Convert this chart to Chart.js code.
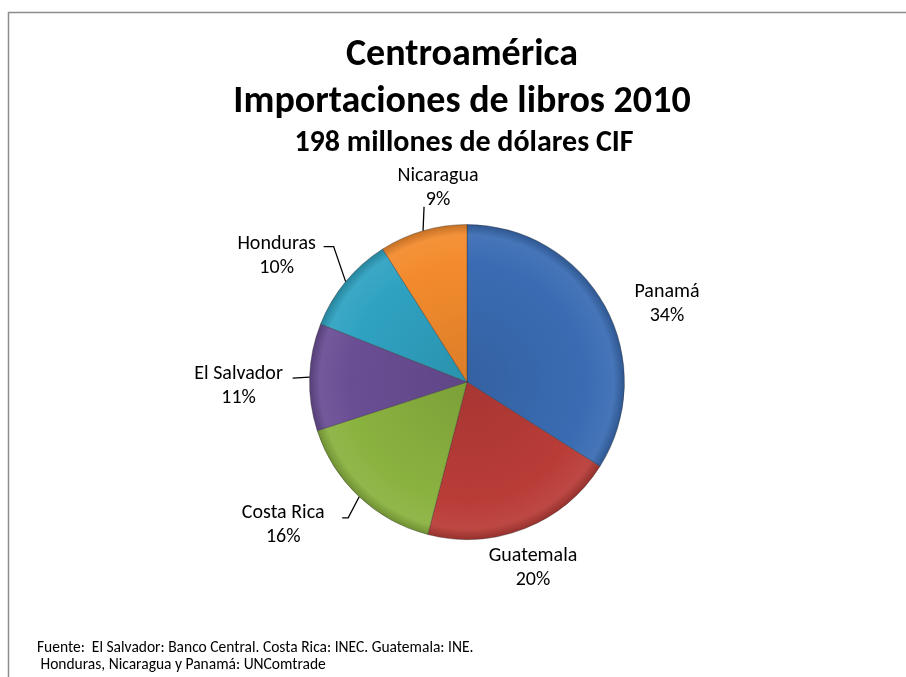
<!DOCTYPE html>
<html>
<head>
<meta charset="utf-8">
<script src="https://cdn.jsdelivr.net/npm/chart.js@4/dist/chart.umd.min.js"></script>
<style>
  html, body { margin: 0; padding: 0; background: #fff; }
  #wrap { position: relative; width: 906px; height: 677px; }
</style>
</head>
<body>
<div id="wrap"><canvas id="c" width="906" height="677"></canvas></div>
<script>
// ---- data ----
const categories = ['Panamá', 'Guatemala', 'Costa Rica', 'El Salvador', 'Honduras', 'Nicaragua'];
const shares = [34, 20, 16, 11, 10, 9];
const titleLines = ['Centroamérica', 'Importaciones de libros 2010'];
const subtitle = '198 millones de dólares CIF';
const sourceLines = ['Fuente:  El Salvador: Banco Central. Costa Rica: INEC. Guatemala: INE.',
                     ' Honduras, Nicaragua y Panamá: UNComtrade'];

// ---- style ----
const baseColors = ['#3a6cb3', '#b93c37', '#8ab23f', '#6a4e95', '#2fa2c1', '#f38b2d'];
const FONT = "Carlito, Lato, 'Open Sans', sans-serif";
// label placement relative to the slice's mid-angle point on the rim
const labelOffsets = [[62, -14], [8, 28], [-76, 16], [-71, -3], [-69, -38], [15, -55]];
// leader line points relative to label first-line centre (null = no leader)
const leaders = [null, null, [[59, 5], [65, 5]], [[54, 4]], [[47, 3], [57, 3]], [[-14, 31]]];

function shade(hex, f) {
  const n = parseInt(hex.slice(1), 16);
  let r = (n >> 16) & 255, g = (n >> 8) & 255, b = n & 255;
  if (f < 0) { r *= 1 + f; g *= 1 + f; b *= 1 + f; }
  else { r += (255 - r) * f; g += (255 - g) * f; b += (255 - b) * f; }
  return `rgb(${Math.round(r)},${Math.round(g)},${Math.round(b)})`;
}

function sliceFill(ctx) {
  const chart = ctx.chart;
  const base = baseColors[ctx.dataIndex];
  const ca = chart.chartArea;
  if (!ca) return base;
  const cx = (ca.left + ca.right) / 2, cy = (ca.top + ca.bottom) / 2;
  const r = Math.min(ca.right - ca.left, ca.bottom - ca.top) / 2;
  const g = chart.ctx.createRadialGradient(cx, cy, 0, cx, cy, r);
  g.addColorStop(0, shade(base, -0.1));
  g.addColorStop(0.75, base);
  g.addColorStop(0.93, shade(base, 0.06));
  g.addColorStop(1, shade(base, -0.2));
  return g;
}

const textPlugin = {
  id: 'texts',
  afterDraw(chart) {
    const c = chart.ctx;
    c.save();
    // frame
    c.strokeStyle = '#8c8c8c';
    c.lineWidth = 1.5;
    c.beginPath();
    c.moveTo(8.5, 680); c.lineTo(8.5, 12.5); c.lineTo(910, 12.5);
    c.stroke();

    c.fillStyle = '#000';
    c.textAlign = 'center';
    c.textBaseline = 'alphabetic';
    c.font = `bold 38px ${FONT}`;
    c.fillText(titleLines[0], 462, 65);
    c.fillText(titleLines[1], 462, 112);
    c.font = `bold 30px ${FONT}`;
    c.fillText(subtitle, 464, 151);

    // data labels
    c.textBaseline = 'middle';
    const meta = chart.getDatasetMeta(0);
    c.font = `20px ${FONT}`;
    c.strokeStyle = '#000';
    c.lineWidth = 1.3;
    const total = shares.reduce((a, b) => a + b, 0);
    meta.data.forEach((el, i) => {
      const p = el.getProps(['x', 'y', 'startAngle', 'endAngle', 'outerRadius'], true);
      const mid = (p.startAngle + p.endAngle) / 2;
      const ax = p.x + Math.cos(mid) * p.outerRadius;
      const ay = p.y + Math.sin(mid) * p.outerRadius;
      const lx = ax + labelOffsets[i][0], ly = ay + labelOffsets[i][1];
      const pct = Math.round(shares[i] / total * 100) + '%';
      c.fillText(categories[i], lx, ly);
      c.fillText(pct, lx, ly + 24);
      if (leaders[i]) {
        c.beginPath();
        leaders[i].forEach((pt, k) => {
          if (k === 0) c.moveTo(lx + pt[0], ly + pt[1]); else c.lineTo(lx + pt[0], ly + pt[1]);
        });
        c.lineTo(ax, ay);
        c.stroke();
      }
    });

    // source note
    c.textAlign = 'left';
    c.font = `15.5px ${FONT}`;
    c.fillText(sourceLines[0], 37, 648);
    c.fillText(sourceLines[1], 37, 665);
    c.restore();
  }
};

new Chart(document.getElementById('c'), {
  type: 'pie',
  data: {
    labels: categories,
    datasets: [{
      data: shares,
      backgroundColor: sliceFill,
      borderColor: 'rgba(40,40,40,0.35)',
      borderWidth: 1
    }]
  },
  options: {
    responsive: false,
    animation: false,
    layout: { padding: { left: 309, right: 281, top: 224, bottom: 137 } },
    plugins: { legend: { display: false }, title: { display: false }, tooltip: { enabled: false } }
  },
  plugins: [textPlugin]
});
</script>
</body>
</html>
